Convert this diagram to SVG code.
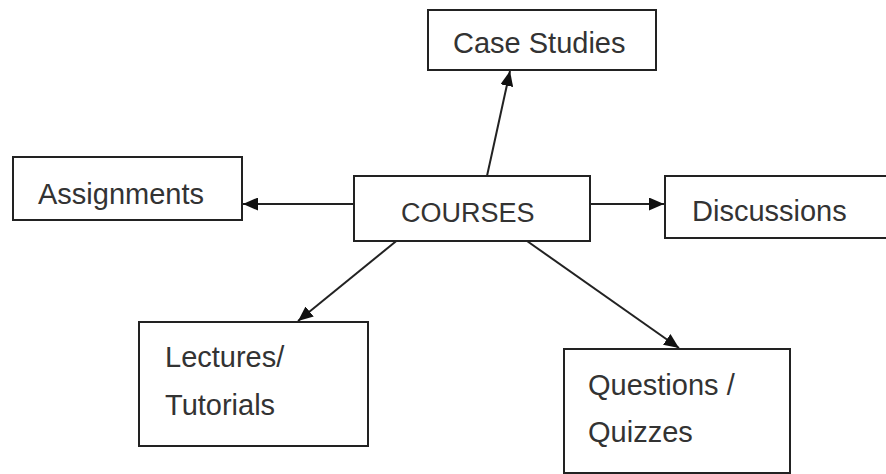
<svg xmlns="http://www.w3.org/2000/svg" width="886" height="474" viewBox="0 0 886 474">
  <style>
    .box { fill: #ffffff; stroke: #222222; stroke-width: 2; }
    .label { font-family: "Liberation Sans", Arial, sans-serif; font-size: 29px; fill: #333333; }
    .caps { font-size: 27px; }
    .edge { stroke: #222222; stroke-width: 2; fill: none; marker-end: url(#arrow); }
  </style>
  <defs>
    <marker id="arrow" viewBox="0 0 10 10" refX="10" refY="5" markerWidth="15" markerHeight="13" markerUnits="userSpaceOnUse" orient="auto" preserveAspectRatio="none">
      <path d="M0,0 L10,5 L0,10 z" fill="#111111"/>
    </marker>
  </defs>
  <rect width="886" height="474" fill="#ffffff"/>

  <g id="connectors">
    <line class="edge" x1="487" y1="176" x2="510" y2="71"/>
    <line class="edge" x1="354" y1="204" x2="243" y2="204"/>
    <line class="edge" x1="590" y1="204" x2="664" y2="204"/>
    <line class="edge" x1="400" y1="238" x2="298" y2="321"/>
    <line class="edge" x1="527" y1="241" x2="679" y2="348"/>
  </g>

  <g id="case-studies">
    <rect class="box" x="428" y="10" width="228" height="60"/>
    <text class="label" x="453" y="53">Case Studies</text>
  </g>

  <g id="courses">
    <rect class="box" x="354" y="176" width="236" height="65"/>
    <text class="label caps" x="401" y="222">COURSES</text>
  </g>

  <g id="assignments">
    <rect class="box" x="13" y="157" width="229" height="63"/>
    <text class="label" x="38" y="204">Assignments</text>
  </g>

  <g id="discussions">
    <rect class="box" x="665" y="176" width="224" height="62"/>
    <text class="label" x="692" y="221">Discussions</text>
  </g>

  <g id="lectures">
    <rect class="box" x="139" y="322" width="229" height="124"/>
    <text class="label" x="165" y="367">Lectures/</text>
    <text class="label" x="165" y="415">Tutorials</text>
  </g>

  <g id="questions">
    <rect class="box" x="564" y="349" width="226" height="124"/>
    <text class="label" x="588" y="395">Questions /</text>
    <text class="label" x="588" y="442">Quizzes</text>
  </g>
</svg>
